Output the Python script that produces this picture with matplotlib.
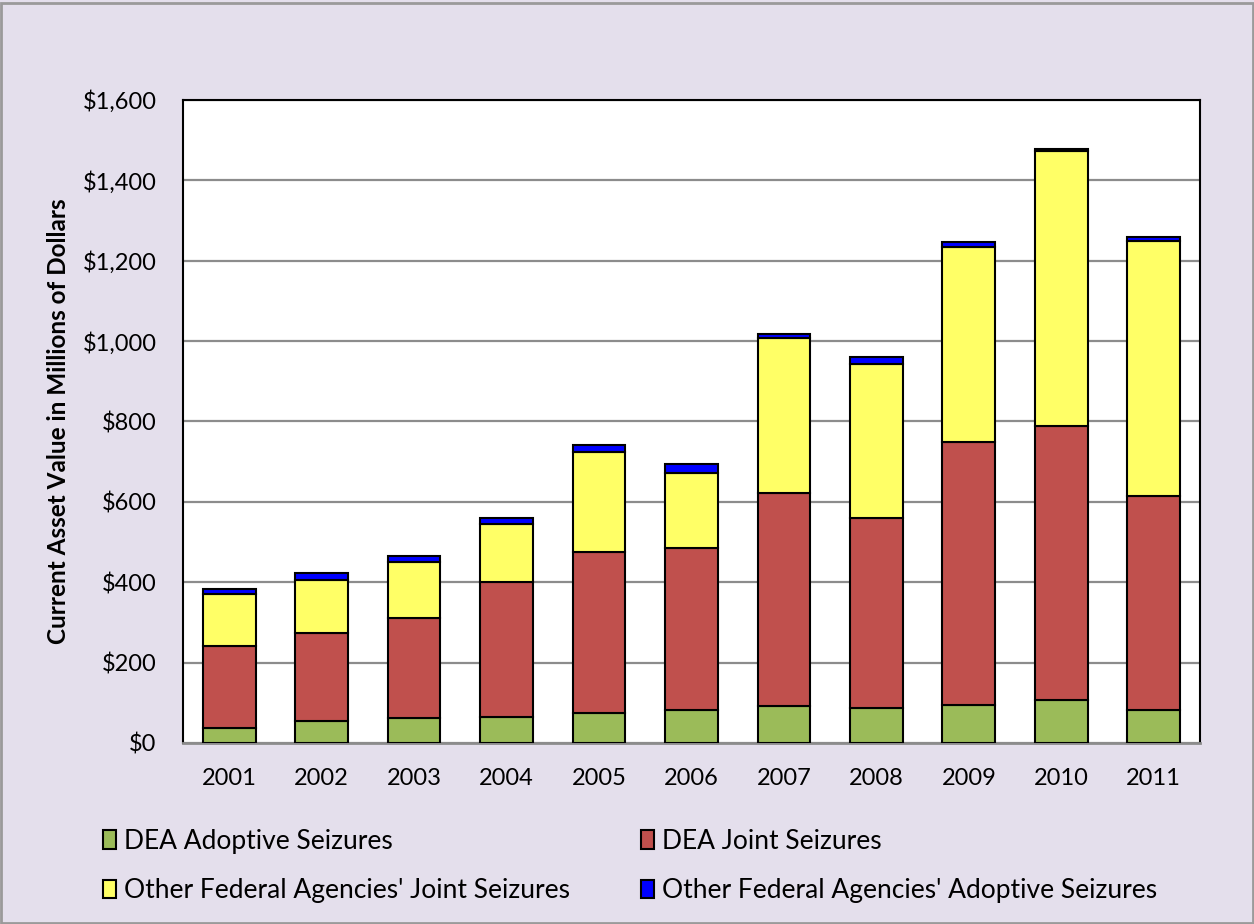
import matplotlib
matplotlib.use("Agg")
import matplotlib.pyplot as plt
import matplotlib.patches as mpatches
from matplotlib.ticker import FuncFormatter
import numpy as np

# === data (millions of dollars) ===
years = ["2001", "2002", "2003", "2004", "2005", "2006",
         "2007", "2008", "2009", "2010", "2011"]
dea_adoptive = [38, 55, 63, 65, 75, 82, 93, 86, 94, 107, 82]
dea_joint = [204, 218, 247, 335, 400, 402, 530, 473, 656, 681, 532]
other_joint = [129, 132, 140, 145, 250, 188, 385, 385, 484, 686, 636]
other_adoptive = [13, 17, 15, 15, 16, 21, 10, 17, 12, 5, 8]

labels = ["DEA Adoptive Seizures", "DEA Joint Seizures",
          "Other Federal Agencies' Joint Seizures",
          "Other Federal Agencies' Adoptive Seizures"]
colors = ["#9BBB59", "#C0504D", "#FFFF66", "#0000FF"]

plt.rcParams['font.family'] = ['Lato', 'DejaVu Sans']

BG = "#E4DFEC"
fig = plt.figure(figsize=(12.54, 9.24), dpi=100, facecolor=BG)
ax = fig.add_axes([0.1459, 0.1959, 0.811, 0.6959])
ax.set_facecolor("white")

# === stacked bars ===
x = np.arange(len(years))
bottom = np.zeros(len(years))
series = [dea_adoptive, dea_joint, other_joint, other_adoptive]
for vals, col, lab in zip(series, colors, labels):
    ax.bar(x, vals, bottom=bottom, width=0.57, color=col,
           edgecolor="black", linewidth=1.5, label=lab, zorder=3)
    bottom += np.array(vals)

ax.set_xlim(-0.5, len(years) - 0.5)
ax.set_ylim(0, 1600)
ax.set_yticks(range(0, 1601, 200))
ax.yaxis.set_major_formatter(FuncFormatter(lambda v, p: f"${v:,.0f}"))
ax.set_xticks(x)
ax.set_xticklabels(years)
ax.tick_params(axis="both", length=0, labelsize=17)
ax.tick_params(axis="y", pad=19)
ax.tick_params(axis="x", pad=18)
ax.grid(axis="y", color="#8C8C8C", linewidth=1.6, zorder=0)

for side in ["left", "top", "right"]:
    ax.spines[side].set_color("black")
    ax.spines[side].set_linewidth(1.5)
ax.spines["bottom"].set_color("#8C8C8C")
ax.spines["bottom"].set_linewidth(2)

ax.set_ylabel("Current Asset Value in Millions of Dollars",
              fontsize=17.5, fontweight="bold", labelpad=9)

# === legend, 2 columns below the plot ===
h, l = ax.get_legend_handles_labels()
order = [0, 2, 1, 3]
fig.legend([h[i] for i in order], [l[i] for i in order],
           loc="upper left", bbox_to_anchor=(0.082, 0.103), ncol=2,
           frameon=False, fontsize=19, handlelength=0.5, handleheight=0.7,
           handletextpad=0.3, columnspacing=2.7, labelspacing=0.92,
           borderaxespad=0, borderpad=0)

# figure border
fig.patches.append(mpatches.Rectangle((0.001, 0.001), 0.998, 0.996,
                                      transform=fig.transFigure, fill=False,
                                      edgecolor="#9A9A9A", linewidth=2))

fig.savefig("out.png", dpi=100, facecolor=BG)
